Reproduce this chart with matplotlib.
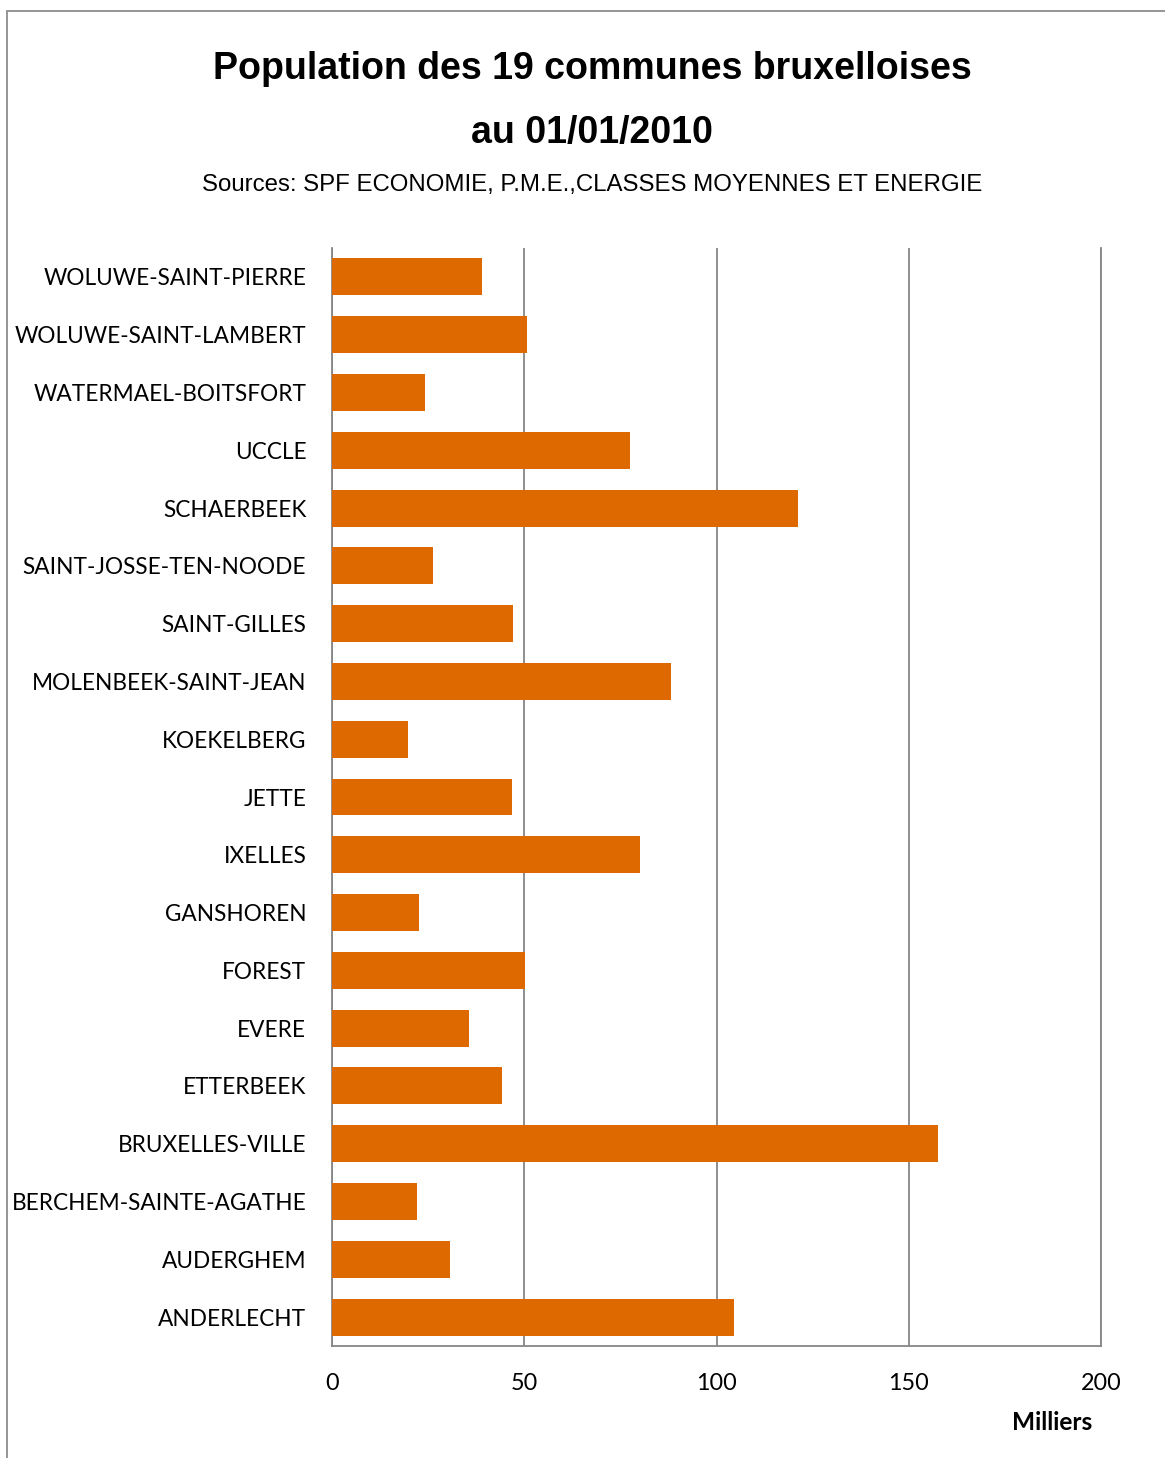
import matplotlib.pyplot as plt
from matplotlib.patches import Rectangle

communes = ['ANDERLECHT', 'AUDERGHEM', 'BERCHEM-SAINTE-AGATHE', 'BRUXELLES-VILLE',
            'ETTERBEEK', 'EVERE', 'FOREST', 'GANSHOREN', 'IXELLES', 'JETTE',
            'KOEKELBERG', 'MOLENBEEK-SAINT-JEAN', 'SAINT-GILLES', 'SAINT-JOSSE-TEN-NOODE',
            'SCHAERBEEK', 'UCCLE', 'WATERMAEL-BOITSFORT', 'WOLUWE-SAINT-LAMBERT',
            'WOLUWE-SAINT-PIERRE']
# population in thousands
population = [104.6, 30.7, 22.1, 157.6, 44.2, 35.6, 50.2, 22.6, 80.1, 46.8,
              19.8, 88.2, 47.1, 26.3, 121.2, 77.5, 24.2, 50.7, 39.0]
xticks = [0, 50, 100, 150, 200]

W, H = 1165, 1458
fig = plt.figure(figsize=(W / 100, H / 100), dpi=100)

# chart frame
fig.patches.append(Rectangle((7 / W, -0.1), 1.2, 1 - 11 / H + 0.1, transform=fig.transFigure,
                             fill=False, edgecolor='#8c8c8c', linewidth=1.3))

ax = fig.add_axes([332 / W, 1 - 1346 / H, (1101 - 332) / W, (1346 - 248) / H])
ax.barh(range(len(communes)), population, height=0.64, color='#DD6900', zorder=3)
ax.set_ylim(-0.5, len(communes) - 0.5)
ax.set_xlim(0, 200)
ax.set_xticks(xticks)
ax.set_xticklabels([str(t) for t in xticks], fontfamily='Lato', fontsize=16.8)
ax.set_yticks(range(len(communes)))
ax.set_yticklabels(communes, fontfamily='Lato', fontsize=16.3)
ax.tick_params(axis='y', length=0, pad=18.5)
ax.tick_params(axis='x', length=0, pad=19.5)
ax.grid(axis='x', color='#868686', linewidth=1.3, zorder=0)
ax.spines['top'].set_visible(False)
for side in ['left', 'bottom', 'right']:
    ax.spines[side].set_color('#868686')
    ax.spines[side].set_linewidth(1.3)

fig.text(592 / W, 1 - 69 / H, 'Population des 19 communes bruxelloises', ha='center', va='center',
         fontfamily='Liberation Sans', fontweight='bold', fontsize=27)
fig.text(592 / W, 1 - 133 / H, 'au 01/01/2010', ha='center', va='center',
         fontfamily='Liberation Sans', fontweight='bold', fontsize=27)
fig.text(592 / W, 1 - 185 / H, 'Sources: SPF ECONOMIE, P.M.E.,CLASSES MOYENNES ET ENERGIE',
         ha='center', va='center', fontfamily='Liberation Sans', fontsize=17.3)
fig.text(1092 / W, 1 - 1423 / H, 'Milliers', ha='right', va='center',
         fontfamily='Lato', fontweight='bold', fontsize=17.6)

fig.savefig('out.png', dpi=100, facecolor='white')
